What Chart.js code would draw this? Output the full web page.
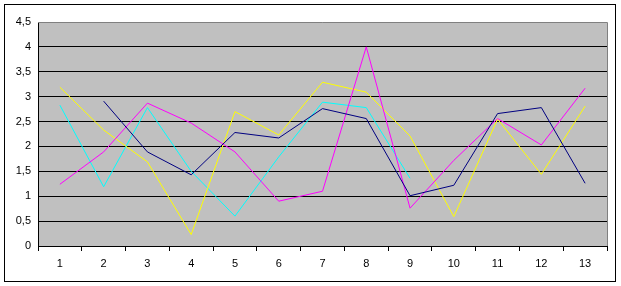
<!DOCTYPE html>
<html>
<head>
<meta charset="utf-8">
<script src="https://cdn.jsdelivr.net/npm/chart.js@4/dist/chart.umd.min.js"></script>
<style>
    html, body { margin: 0; padding: 0; background: #fff; }
    #wrap { width: 621px; height: 286px; position: relative; }
</style>
</head>
<body>
<div id="wrap"><canvas id="lineChart"></canvas></div>
<script>
const categories = ["1", "2", "3", "4", "5", "6", "7", "8", "9", "10", "11", "12", "13"];
const navyValues = [null, 2.91, 1.89, 1.43, 2.28, 2.17, 2.76, 2.56, 1.01, 1.22, 2.66, 2.78, 1.26];
const magentaValues = [1.24, 1.89, 2.87, 2.47, 1.89, 0.90, 1.10, 4.00, 0.76, 1.72, 2.56, 2.03, 3.17];
const yellowValues = [3.19, 2.33, 1.69, 0.23, 2.70, 2.23, 3.29, 3.09, 2.21, 0.59, 2.55, 1.44, 2.81];
const cyanValues = [2.83, 1.19, 2.78, 1.50, 0.60, 1.79, 2.89, 2.78, 1.36, null, null, null, null];
const yMin = 0;
const yMax = 4.5;
const yStep = 0.5;

// excel-like frame: white page, black outer box, grey plot area
const framePlugin = {
    id: "frame",
    beforeDraw(chart) {
        const ctx = chart.ctx;
        const a = chart.chartArea;
        ctx.save();
        ctx.fillStyle = "#ffffff";
        ctx.fillRect(0, 0, chart.width, chart.height);
        ctx.strokeStyle = "#000000";
        ctx.lineWidth = 1;
        ctx.strokeRect(4.5, 4.5, 611, 277);
        ctx.fillStyle = "#c0c0c0";
        ctx.fillRect(a.left, a.top, a.right - a.left, a.bottom - a.top);
        ctx.restore();
    },
    afterDraw(chart) {
        const ctx = chart.ctx;
        const a = chart.chartArea;
        ctx.save();
        ctx.strokeStyle = "#808080";
        ctx.lineWidth = 1;
        ctx.beginPath();
        ctx.moveTo(a.left, a.top + 0.5);
        ctx.lineTo(a.right + 0.5, a.top + 0.5);
        ctx.lineTo(a.right + 0.5, a.bottom);
        ctx.stroke();
        ctx.restore();
    }
};

function makeSeries(label, values, color) {
    return {
        label: label,
        data: values,
        borderColor: color,
        backgroundColor: color,
        borderWidth: 1,
        pointRadius: 0,
        tension: 0,
        spanGaps: false
    };
}

const ctx = document.getElementById("lineChart").getContext("2d");
new Chart(ctx, {
    type: "line",
    data: {
        labels: categories,
        datasets: [
            makeSeries("Series 1", navyValues, "#000080"),
            makeSeries("Series 2", magentaValues, "#ff00ff"),
            makeSeries("Series 3", yellowValues, "#ffff00"),
            makeSeries("Series 4", cyanValues, "#00ffff")
        ]
    },
    options: {
        responsive: true,
        maintainAspectRatio: false,
        animation: false,
        layout: {
            padding: { left: 0, top: 22, right: 14, bottom: 0 }
        },
        plugins: {
            legend: { display: false },
            tooltip: { enabled: false }
        },
        scales: {
            x: {
                offset: true,
                afterFit: function(scale) { scale.height = 40; },
                grid: {
                    offset: true,
                    drawOnChartArea: false,
                    drawTicks: true,
                    tickLength: 5,
                    color: "#000000"
                },
                border: { color: "#000000", width: 1 },
                ticks: {
                    color: "#000000",
                    padding: 6,
                    maxRotation: 0,
                    autoSkip: false,
                    font: { family: "Liberation Sans, Arial, sans-serif", size: 11 }
                }
            },
            y: {
                min: yMin,
                max: yMax,
                afterFit: function(scale) { scale.width = 38; },
                grid: {
                    drawTicks: false,
                    color: function(c) {
                        return c.tick && c.tick.value === yMax ? "rgba(0,0,0,0)" : "#000000";
                    }
                },
                border: { color: "#000000", width: 1 },
                ticks: {
                    stepSize: yStep,
                    padding: 7,
                    color: "#000000",
                    font: { family: "Liberation Sans, Arial, sans-serif", size: 11 },
                    callback: function(value) {
                        return String(value).replace(".", ",");
                    }
                }
            }
        }
    },
    plugins: [framePlugin]
});
</script>
</body>
</html>
